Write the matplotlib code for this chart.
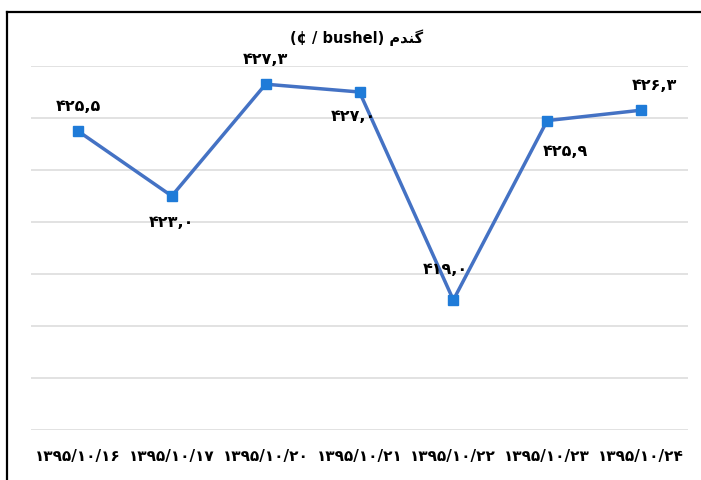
import matplotlib
matplotlib.use('Agg')
import matplotlib.pyplot as plt
from matplotlib.lines import Line2D

# داده‌ها
dates = ['1395/10/16', '1395/10/17', '1395/10/20', '1395/10/21',
         '1395/10/22', '1395/10/23', '1395/10/24']
prices = [425.5, 423.0, 427.3, 427.0, 419.0, 425.9, 426.3]
# جابجایی برچسب‌ها (پیکسل)
label_dx = [0, 0, 0, -6, -8, 18, 13]
label_dy = [25, -26, 26, -24, 31, -30, 26]

FA_DIGITS = str.maketrans('0123456789', '۰۱۲۳۴۵۶۷۸۹')


def fa(s):
    return s.translate(FA_DIGITS)


# «گندم» به شکل نمایشی (چپ به راست)
title_fa = '\uFEE1\uFEAA\uFEE8\uFB94'
title = '(\u00a2 / bushel) ' + title_fa

W, H = 701, 481
fig = plt.figure(figsize=(W / 100, H / 100), dpi=100)
fig.patch.set_facecolor('white')

ax = fig.add_axes([31 / W, 50 / H, 657 / W, 364 / H])
x = list(range(len(prices)))
ax.plot(x, prices, color='#4472C4', linewidth=2.5, marker='s', markersize=6.5,
        markerfacecolor='#1F7BD8', markeredgecolor='#1F7BD8', zorder=3)

for i, v in enumerate(prices):
    txt = fa(f'{v:.1f}'.replace('.', ','))
    ax.annotate(txt, (i, v), xytext=(label_dx[i] * 0.72, label_dy[i] * 0.72),
                textcoords='offset points', ha='center', va='center',
                fontsize=11.5, fontweight='bold', family='DejaVu Sans')

ax.set_xlim(-0.5, len(prices) - 0.5)
ax.set_ylim(414, 428)
ax.set_yticks(range(414, 429, 2))
ax.yaxis.grid(True, color='#DDDDDD', linewidth=1.2)
ax.set_axisbelow(True)
ax.tick_params(axis='y', left=False, labelleft=False)
ax.set_xticks(x)
ax.set_xticklabels([fa(d) for d in dates], fontsize=11, fontweight='bold',
                   family='DejaVu Sans')
ax.tick_params(axis='x', length=0, pad=13)
for s in ax.spines.values():
    s.set_visible(False)

fig.text(357 / W, 1 - 38 / H, title, ha='center', va='center',
         fontsize=10.5, fontweight='bold', family='DejaVu Sans')

# قاب بیرونی
fig.add_artist(Line2D([6.5 / W, 6.5 / W], [0, 1 - 12.5 / H], color='black',
                      linewidth=1.6, transform=fig.transFigure))
fig.add_artist(Line2D([6.5 / W, 1], [1 - 12.5 / H, 1 - 12.5 / H], color='black',
                      linewidth=1.6, transform=fig.transFigure))

fig.savefig('out.png', dpi=100)
